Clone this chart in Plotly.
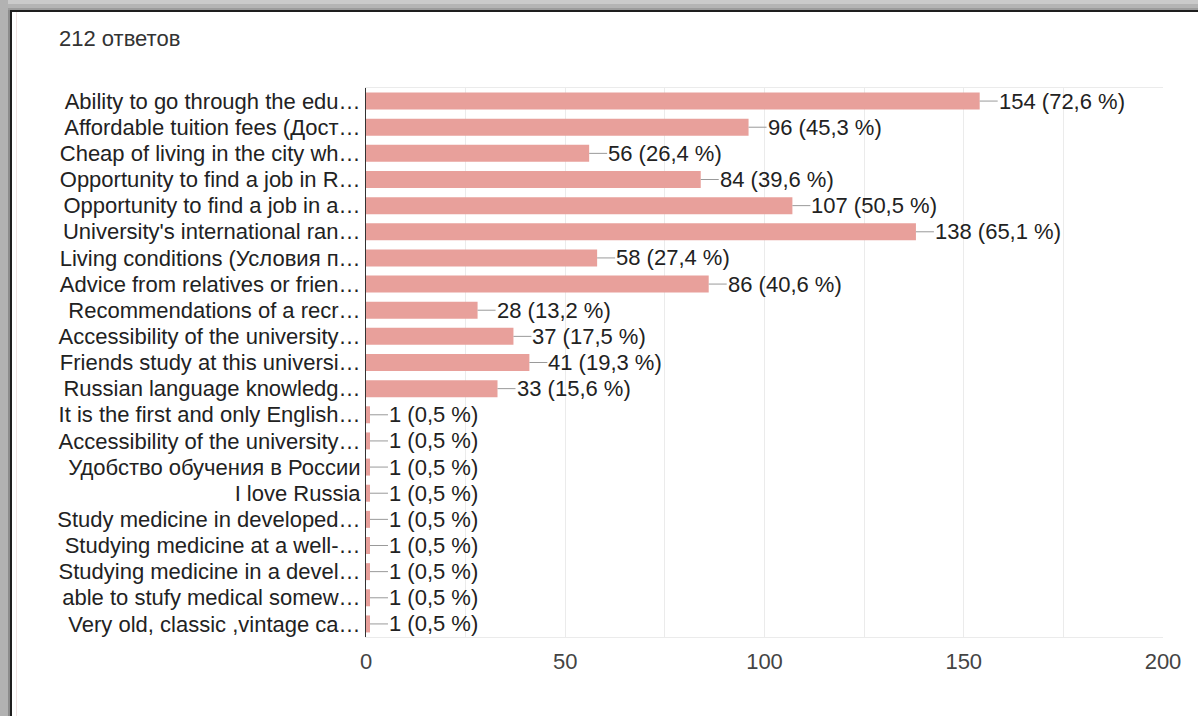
import plotly.graph_objects as go

# Data
total_responses = 212
labels = [
    "Ability to go through the edu…",
    "Affordable tuition fees (Дост…",
    "Cheap of living in the city wh…",
    "Opportunity to find a job in R…",
    "Opportunity to find a job in a…",
    "University's international ran…",
    "Living conditions (Условия п…",
    "Advice from relatives or frien…",
    "Recommendations of a recr…",
    "Accessibility of the university…",
    "Friends study at this universi…",
    "Russian language knowledg…",
    "It is the first and only English…",
    "Accessibility of the university…",
    "Удобство обучения в России",
    "I love Russia",
    "Study medicine in developed…",
    "Studying medicine at a well-…",
    "Studying medicine in a devel…",
    "able to stufy medical somew…",
    "Very old, classic ,vintage ca…",
]
counts = [154, 96, 56, 84, 107, 138, 58, 86, 28, 37, 41, 33,
          1, 1, 1, 1, 1, 1, 1, 1, 1]
x_ticks = [0, 50, 100, 150, 200]

positions = list(range(len(labels)))
bar_color = "#e8a09b"
font_family = "Liberation Sans, Arial, sans-serif"
fsize = 22

fig = go.Figure()
fig.add_trace(go.Bar(
    x=counts,
    y=positions,
    orientation="h",
    marker=dict(color=bar_color, line=dict(width=0)),
    hoverinfo="skip",
))

# value labels with a short leader line
annotations = []
for pos, c in zip(positions, counts):
    pct = f"{c / total_responses * 100:.1f}".replace(".", ",")
    annotations.append(dict(
        x=c, y=pos, xref="x", yref="y",
        text=f"{c} ({pct} %)",
        showarrow=True, arrowhead=0, arrowwidth=1, arrowcolor="#9a9a9a",
        ax=18, ay=0, axref="pixel", ayref="pixel",
        xanchor="left", yanchor="middle", standoff=0, borderpad=0,
        font=dict(size=fsize, color="#222222", family=font_family),
    ))

annotations.append(dict(
    text="212 ответов", xref="paper", yref="paper",
    x=-(366 - 57) / 797, y=1 + (88 - 39) / 549,
    xanchor="left", yanchor="middle", showarrow=False,
    font=dict(size=fsize, color="#333333", family=font_family),
))

# screenshot window frame (pixel offsets from the plot area corner)
def frame_rect(x0, x1, y0, y1, color):
    return dict(type="rect", xref="paper", yref="paper",
                xsizemode="pixel", ysizemode="pixel",
                xanchor=0, yanchor=1, x0=x0, x1=x1, y0=y0, y1=y1,
                fillcolor=color, line=dict(width=0), layer="above")

shapes = [
    frame_rect(-366, 832, 88, 84, "#cacaca"),
    frame_rect(-366, 832, 84, 80, "#b4b4b4"),
    frame_rect(-366, 832, 80, 78, "#9c9c9c"),
    frame_rect(-366, -358, -700, 88, "#b2b2b2"),
    frame_rect(-358, -356, -700, 78, "#8c8c8c"),
    frame_rect(-356, 832, 78, 76, "#1e1e1e"),
    frame_rect(-356, -354, -700, 78, "#1e1e1e"),
    frame_rect(-350, -349, -700, 76, "#efe2e2"),
]

fig.update_layout(
    width=1198, height=716,
    margin=dict(l=366, r=35, t=88, b=79),
    paper_bgcolor="white", plot_bgcolor="white",
    showlegend=False,
    bargap=0.35,
    font=dict(family=font_family, color="#222222"),
    annotations=annotations,
    shapes=shapes,
    xaxis=dict(
        range=[0, 200], tickvals=x_ticks,
        showgrid=True, gridcolor="#ebebeb", gridwidth=1,
        minor=dict(dtick=25, tick0=0, showgrid=True, gridcolor="#ebebeb"),
        zeroline=False, showline=True, linecolor="#ebebeb", mirror=True,
        ticks="", ticklabelstandoff=5,
        tickfont=dict(size=fsize, color="#444444"),
        fixedrange=True,
    ),
    yaxis=dict(
        range=[20.5, -0.5], tickvals=positions, ticktext=labels,
        showgrid=False, zeroline=False,
        showline=True, linecolor="#333333", linewidth=1,
        ticks="", tickfont=dict(size=fsize, color="#222222"),
        fixedrange=True,
    ),
)

fig.write_html("out.html", config={"displayModeBar": False},
               post_script="document.body.style.margin='0';")
